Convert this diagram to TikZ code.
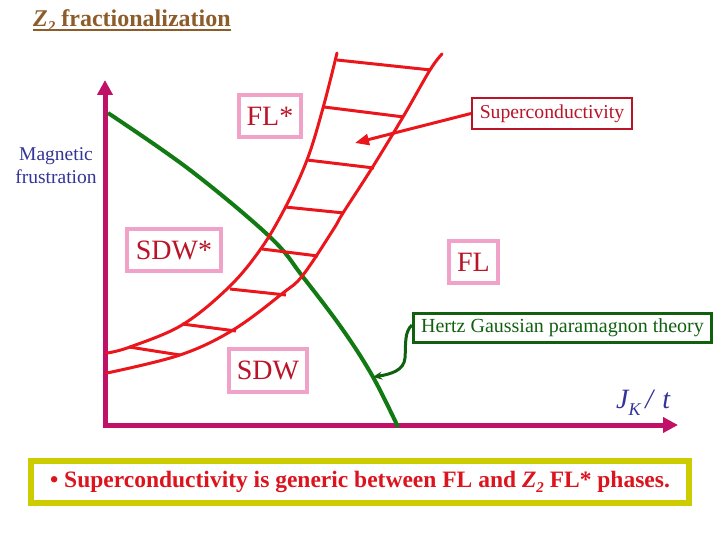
\documentclass[tikz,border=0pt]{standalone}
\usepackage{fontspec}
\setmainfont{Liberation Serif}
\usetikzlibrary{arrows.meta,calc}
\definecolor{axiscol}{RGB}{192,16,104}
\definecolor{bandred}{RGB}{235,22,28}
\definecolor{labred}{RGB}{185,20,40}
\definecolor{pinkbox}{RGB}{240,162,200}
\definecolor{bgreen}{RGB}{18,122,18}
\definecolor{hgreen}{RGB}{16,96,16}
\definecolor{navy}{RGB}{51,51,153}
\definecolor{titlebrown}{RGB}{140,92,42}
\definecolor{olive}{RGB}{204,204,0}
\definecolor{noteRed}{RGB}{220,20,30}
\tikzset{
  phase/.style={draw=pinkbox,line width=4pt,text=labred,inner sep=0pt,
    font=\fontsize{28}{32}\selectfont},
  axisline/.style={draw=axiscol,line width=5pt,-{Triangle[length=15pt,width=15pt]}},
  band/.style={draw=bandred,line width=3pt,line cap=round},
  rung/.style={draw=bandred,line width=3pt},
}
\begin{document}
\begin{tikzpicture}[x=1pt,y=-1pt]
\useasboundingbox (0,0) rectangle (720,540);
% title
\node[anchor=base west,inner sep=0pt,text=titlebrown,font=\fontsize{24}{28}\selectfont\bfseries]
  (title) at (33,27) {\textit{Z}\raisebox{-5pt}{\fontsize{15}{15}\selectfont\itshape 2} fractionalization};
\draw[titlebrown,line width=2pt] ([yshift=-3pt]title.base west) -- ([yshift=-3pt]title.base east);
% axes
\coordinate (O) at (105,425);
\coordinate (ytop) at (105,80);
\coordinate (xend) at (678,425);
\draw[axisline] (105,428) -- (ytop);
\draw[axisline] (102.5,425) -- (xend);
\node[align=center,text=navy,font=\fontsize{19.5}{23}\selectfont] (ylab) at (56,166) {Magnetic\\frustration};
\node[anchor=base west,inner sep=0pt,text=navy,font=\fontsize{28}{30}\selectfont\itshape] (xlab) at (616,408)
  {J\raisebox{-7pt}{\fontsize{18}{18}\selectfont K}\,/\,\,t};
% green phase boundary
\draw[bgreen,line width=4pt] plot[smooth,tension=0.6] coordinates
  {(108,113) (190,170) (270,237) (303,277) (343,330) (373,377) (398,427)};
% red band
\draw[band] plot[smooth,tension=0.6] coordinates
  {(107,353) (130,347) (182,325) (228,288) (260,250) (285,208) (307,160) (323,108) (337,53)};
\draw[band] plot[smooth,tension=0.6] coordinates
  {(107,373) (180,355) (233,330) (283,293) (303,275) (333,230) (343,213) (372,168) (403,117) (430,70) (442,54)};
\draw[rung] (337,60) -- (431,70);
\draw[rung] (324,107) -- (404,117);
\draw[rung] (307,160) -- (374,168);
\draw[rung] (285,207) -- (344,213);
\draw[rung] (262,249) -- (318,256);
\draw[rung] (230,289) -- (286,295);
\draw[rung] (182,324) -- (236,331);
\draw[rung] (129,347) -- (180,355);
% phase labels
\node[phase,minimum width=62pt,minimum height=42pt] (flstar) at (270,116) {FL*};
\node[phase,minimum width=94pt,minimum height=42pt] (sdwstar) at (174,250) {SDW*};
\node[phase,minimum width=49pt,minimum height=42pt] (fl) at (473.5,262) {FL};
\node[phase,minimum width=78pt,minimum height=43pt] (sdw) at (268,370.5) {SDW};
% superconductivity callout
\node[draw=labred,line width=2pt,text=labred,inner sep=0pt,minimum width=160pt,minimum height=31pt,
  font=\fontsize{19.7}{22}\selectfont] (sc) at (552,113.5) {Superconductivity};
\coordinate (sctip) at (355,143);
\draw[bandred,line width=3pt,-{Triangle[length=14pt,width=11pt]}] (sc.west) -- (sctip);
% Hertz callout
\node[draw=hgreen,line width=3pt,text=hgreen,inner sep=0pt,minimum width=298pt,minimum height=29pt,
  font=\fontsize{20}{22}\selectfont] (hertz) at (562.5,328) {Hertz Gaussian paramagnon theory};
\coordinate (htip) at (373,377);
\draw[hgreen,line width=3pt,-{Stealth[length=9pt,width=8pt]}]
  ([yshift=3pt]hertz.west) .. controls (404,332) and (406,345) .. (405,358)
  .. controls (404,370) and (392,374) .. (htip);
% bottom note
\node[draw=olive,line width=6pt,inner sep=0pt,minimum width=658pt,minimum height=42pt,
  text=noteRed,font=\fontsize{23.5}{26}\selectfont\bfseries] (note) at (360,482)
  {\textbullet\ Superconductivity is generic between FL and \textit{Z}\raisebox{-5pt}{\fontsize{15}{15}\selectfont\itshape 2} FL* phases.};
\end{tikzpicture}
\end{document}
